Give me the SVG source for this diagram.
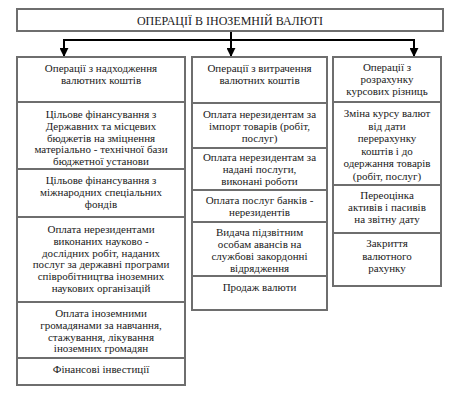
<svg xmlns="http://www.w3.org/2000/svg" width="459" height="400" viewBox="0 0 459 400">
<defs>
<style>
.box{fill:#ffffff;stroke:#6e6e6e;stroke-width:2}
.t{font-family:"Liberation Serif","DejaVu Serif","Times New Roman",serif;font-size:11px;fill:#1a1a1a;text-anchor:middle}
.tt{font-size:12px}
.c{stroke:#000;stroke-width:2;fill:none}
</style>
<marker id="ah" viewBox="0 0 10 10" refX="9" refY="5" markerWidth="4.5" markerHeight="4.5" orient="auto" markerUnits="strokeWidth">
<path d="M0,0 L10,5 L0,10 z" fill="#000"/>
</marker>
</defs>
<rect width="459" height="400" fill="#ffffff"/>

<g id="connectors">
<path class="c" d="M231,31 V40"/>
<path class="c" d="M64,40 H414"/>
<path class="c" d="M64,39 V56" marker-end="url(#ah)"/>
<path class="c" d="M231,40 V56" marker-end="url(#ah)"/>
<path class="c" d="M414,39 V56" marker-end="url(#ah)"/>
</g>

<g id="title">
<rect class="box" x="17" y="9" width="426" height="22"/>
<text class="t tt" x="230" y="25">ОПЕРАЦІЇ В ІНОЗЕМНІЙ ВАЛЮТІ</text>
</g>

<g id="col1-header">
<rect class="box" x="17" y="57" width="168" height="45"/>
<text class="t" x="101" y="72"><tspan x="101">Операції з надходження</tspan><tspan x="101" dy="12">валютних коштів</tspan></text>
</g>
<g id="col1-r1">
<rect class="box" x="17" y="102" width="168" height="67"/>
<text class="t" x="101" y="118"><tspan x="101">Цільове фінансування з</tspan><tspan x="101" dy="11.8">Державних та місцевих</tspan><tspan x="101" dy="11.8">бюджетів на зміцнення</tspan><tspan x="101" dy="11.8">матеріально - технічної бази</tspan><tspan x="101" dy="11.8">бюджетної установи</tspan></text>
</g>
<g id="col1-r2">
<rect class="box" x="17" y="169" width="168" height="48"/>
<text class="t" x="101" y="184"><tspan x="101">Цільове фінансування з</tspan><tspan x="101" dy="12">міжнародних спеціальних</tspan><tspan x="101" dy="12">фондів</tspan></text>
</g>
<g id="col1-r3">
<rect class="box" x="17" y="217" width="168" height="85"/>
<text class="t" x="101" y="233"><tspan x="101">Оплата нерезидентами</tspan><tspan x="101" dy="11.8">виконаних науково -</tspan><tspan x="101" dy="11.8">дослідних робіт, наданих</tspan><tspan x="101" dy="11.8">послуг за державні програми</tspan><tspan x="101" dy="11.8">співробітництва іноземних</tspan><tspan x="101" dy="11.8">наукових організацій</tspan></text>
</g>
<g id="col1-r4">
<rect class="box" x="17" y="302" width="168" height="56"/>
<text class="t" x="101" y="317"><tspan x="101">Оплата іноземними</tspan><tspan x="101" dy="11.8">громадянами за навчання,</tspan><tspan x="101" dy="11.8">стажування, лікування</tspan><tspan x="101" dy="11.8">іноземних громадян</tspan></text>
</g>
<g id="col1-r5">
<rect class="box" x="17" y="358" width="168" height="27"/>
<text class="t" x="101" y="373">Фінансові інвестиції</text>
</g>

<g id="col2-header">
<rect class="box" x="192" y="57" width="135" height="46"/>
<text class="t" x="259.5" y="72"><tspan x="259.5">Операції з витрачення</tspan><tspan x="259.5" dy="12">валютних коштів</tspan></text>
</g>
<g id="col2-r1">
<rect class="box" x="192" y="103" width="135" height="45"/>
<text class="t" x="259.5" y="118"><tspan x="259.5">Оплата нерезидентам за</tspan><tspan x="259.5" dy="12">імпорт товарів (робіт,</tspan><tspan x="259.5" dy="12">послуг)</tspan></text>
</g>
<g id="col2-r2">
<rect class="box" x="192" y="148" width="135" height="42"/>
<text class="t" x="259.5" y="161"><tspan x="259.5">Оплата нерезидентам за</tspan><tspan x="259.5" dy="12">надані послуги,</tspan><tspan x="259.5" dy="12">виконані роботи</tspan></text>
</g>
<g id="col2-r3">
<rect class="box" x="192" y="190" width="135" height="32"/>
<text class="t" x="259.5" y="204"><tspan x="259.5">Оплата послуг банків -</tspan><tspan x="259.5" dy="12">нерезидентів</tspan></text>
</g>
<g id="col2-r4">
<rect class="box" x="192" y="222" width="135" height="54"/>
<text class="t" x="259.5" y="236"><tspan x="259.5">Видача підзвітним</tspan><tspan x="259.5" dy="12">особам авансів на</tspan><tspan x="259.5" dy="12">службові закордонні</tspan><tspan x="259.5" dy="12">відрядження</tspan></text>
</g>
<g id="col2-r5">
<rect class="box" x="192" y="276" width="135" height="34"/>
<text class="t" x="259.5" y="291">Продаж валюти</text>
</g>

<g id="col3-header">
<rect class="box" x="333" y="57" width="108" height="45"/>
<text class="t" x="387" y="71"><tspan x="387">Операції з</tspan><tspan x="387" dy="12">розрахунку</tspan><tspan x="387" dy="12">курсових різниць</tspan></text>
</g>
<g id="col3-r1">
<rect class="box" x="333" y="102" width="108" height="83"/>
<text class="t" x="387" y="117"><tspan x="387">Зміна курсу валют</tspan><tspan x="387" dy="12.6">від дати</tspan><tspan x="387" dy="12.6">перерахунку</tspan><tspan x="387" dy="12.6">коштів і до</tspan><tspan x="387" dy="12.6">одержання товарів</tspan><tspan x="387" dy="12.6">(робіт, послуг)</tspan></text>
</g>
<g id="col3-r2">
<rect class="box" x="333" y="185" width="108" height="48"/>
<text class="t" x="387" y="199"><tspan x="387">Переоцінка</tspan><tspan x="387" dy="12">активів і пасивів</tspan><tspan x="387" dy="12">на звітну дату</tspan></text>
</g>
<g id="col3-r3">
<rect class="box" x="333" y="233" width="108" height="53"/>
<text class="t" x="387" y="247"><tspan x="387">Закриття</tspan><tspan x="387" dy="12.5">валютного</tspan><tspan x="387" dy="12.5">рахунку</tspan></text>
</g>
</svg>
